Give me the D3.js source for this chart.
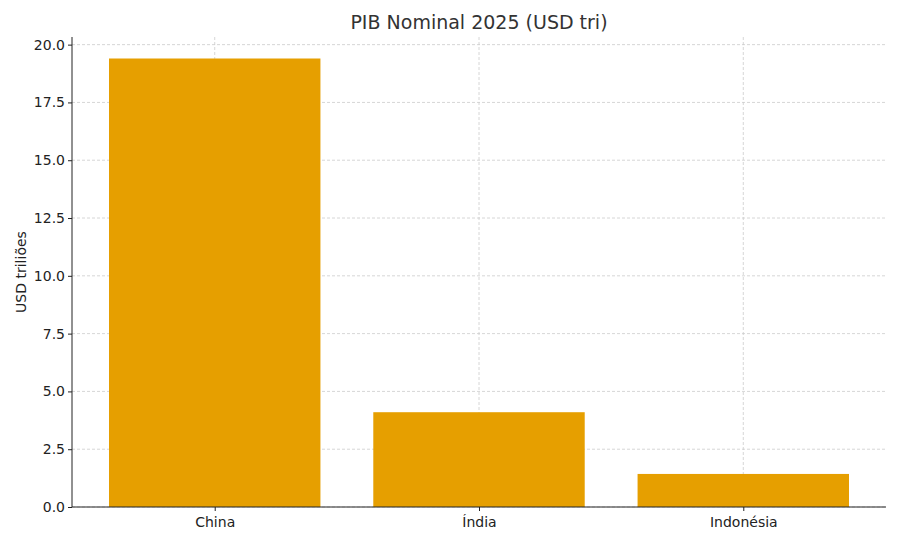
<!DOCTYPE html>
<html><head><meta charset="utf-8">
<script src="https://cdn.jsdelivr.net/npm/d3@7"></script>
<style>body{margin:0;background:#fff}svg{font-family:"DejaVu Sans",sans-serif}</style>
</head><body><svg id="c" width="900" height="540"></svg>
<script>
const categories = ["China", "Índia", "Indonésia"];
const values = [19.4, 4.1, 1.43];
const yTicks = [0, 2.5, 5, 7.5, 10, 12.5, 15, 17.5, 20];

const svg = d3.select("#c");
const L = 72, R = 886, T = 37, B = 507;
const x = d3.scaleLinear().domain([-0.54, 2.54]).range([L, R]);
const y = d3.scaleLinear().domain([0, 20.33]).range([B, T]);
const bw = (x(0.8) - x(0));

// grid
svg.append("g").selectAll("line").data(yTicks).join("line")
  .attr("x1", L).attr("x2", R).attr("y1", d => y(d)).attr("y2", d => y(d))
  .attr("stroke", "#ccc").attr("stroke-dasharray", "3,2").attr("stroke-width", 0.8);
svg.append("g").selectAll("line").data(categories).join("line")
  .attr("x1", (d, i) => x(i)).attr("x2", (d, i) => x(i)).attr("y1", T).attr("y2", B)
  .attr("stroke", "#ccc").attr("stroke-dasharray", "3,2").attr("stroke-width", 0.8);

// bars
svg.append("g").selectAll("rect").data(values).join("rect")
  .attr("x", (d, i) => x(i) - bw / 2).attr("width", bw)
  .attr("y", d => y(d)).attr("height", d => B - y(d))
  .attr("fill", "#E69F00");

// axes
const ya = svg.append("g").attr("transform", `translate(${L},0)`)
  .call(d3.axisLeft(y).tickValues(yTicks).tickFormat(d3.format(".1f")).tickSize(4));
const xa = svg.append("g").attr("transform", `translate(0,${B})`)
  .call(d3.axisBottom(x).tickValues([0, 1, 2]).tickFormat(i => categories[i]).tickSize(4));
[ya, xa].forEach(a => {
  a.selectAll("text").attr("font-size", 14).attr("fill", "#222").attr("font-family", "DejaVu Sans");
  a.selectAll("line,path").attr("stroke", "#222");
});
ya.select(".domain").attr("d", `M0,${B}V${T}`);
xa.select(".domain").attr("d", `M${L},0H${R}`);
xa.selectAll("text").attr("dy", "0.9em");

svg.append("text").attr("x", 479).attr("y", 29).attr("text-anchor", "middle")
  .attr("font-size", 19).attr("fill", "#333").text("PIB Nominal 2025 (USD tri)");
svg.append("text").attr("transform", `translate(26,272) rotate(-90)`).attr("text-anchor", "middle")
  .attr("font-size", 14).attr("fill", "#222").text("USD triliões");
</script></body></html>
